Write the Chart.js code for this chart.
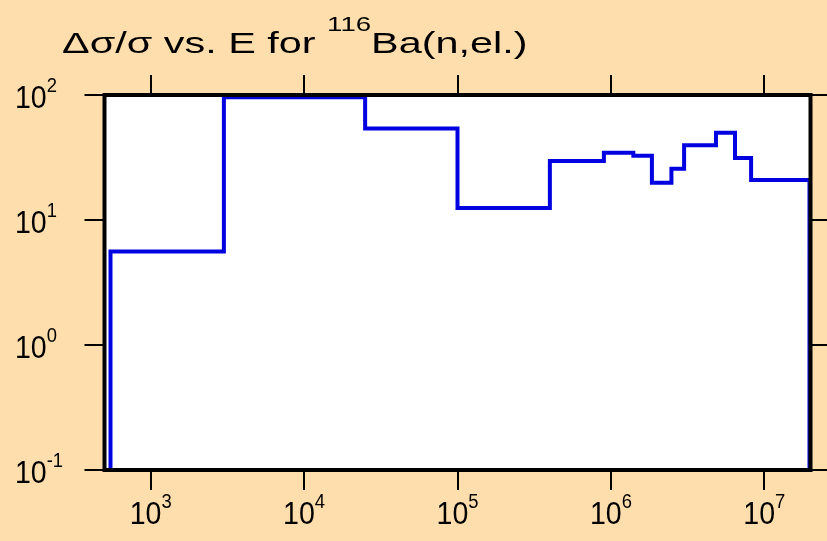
<!DOCTYPE html>
<html>
<head>
<meta charset="utf-8">
<script src="https://cdn.jsdelivr.net/npm/chart.js@4"></script>
<style>
  html, body { margin: 0; padding: 0; background: #ffdead; }
  canvas { display: block; }
</style>
</head>
<body>
<canvas id="js-chart" width="827" height="541"></canvas>
<script>
// bin edges (eV) and relative uncertainty (%) per bin
const binEdges = [547, 3000, 25000, 1e5, 4e5, 9e5, 1.4e6, 1.85e6, 2.48e6, 3e6, 4.84e6, 6.44e6, 8.2e6, 1.97e7];
const relErr = [5.6, 96, 54, 12.5, 29.6, 34.5, 32.6, 19.9, 25.7, 39.6, 50, 31.3, 20.9];
const xTickExp = [3, 4, 5, 6, 7];
const yTickExp = [-1, 0, 1, 2];
const titleParts = ['Δσ/σ vs. E for ', '116', 'Ba(n,el.)'];

// step path, dropping to the floor at both ends
const floorValue = 0.01;
const points = [{ x: binEdges[0], y: floorValue }];
relErr.forEach((v, i) => {
  points.push({ x: binEdges[i], y: v });
  points.push({ x: binEdges[i + 1], y: v });
});
points.push({ x: binEdges[binEdges.length - 1], y: floorValue });

const FONT = '"Liberation Sans", Arial, sans-serif';

// draw runs of text with different sizes / rises, sx = horizontal stretch
function drawRuns(ctx, runs, x, baseline, align, sx) {
  let total = 0;
  runs.forEach(r => {
    ctx.font = r.size + 'px ' + FONT;
    r.w = ctx.measureText(r.text).width * sx;
    total += r.w;
  });
  let cx = x;
  if (align === 'center') cx = x - total / 2;
  runs.forEach(r => {
    ctx.save();
    ctx.font = r.size + 'px ' + FONT;
    ctx.translate(cx, baseline - (r.rise || 0));
    ctx.scale(sx, 1);
    ctx.textAlign = 'left';
    ctx.textBaseline = 'alphabetic';
    ctx.fillText(r.text, 0, 0);
    ctx.restore();
    cx += r.w;
  });
}

function powRuns(e) {
  return [{ text: '10', size: 31 }, { text: String(e), size: 20, rise: 16 }];
}

const frame = {
  id: 'frame',
  beforeDatasetsDraw(chart) {
    const { ctx, chartArea: { left, top, width, height } } = chart;
    ctx.save();
    ctx.fillStyle = '#ffffff';
    ctx.fillRect(left, top, width, height);
    ctx.restore();
  },
  afterDraw(chart) {
    const { ctx, chartArea: { left, top, right, bottom, width, height } } = chart;
    const xs = chart.scales.x, ys = chart.scales.y;
    const tick = 20;
    ctx.save();
    ctx.strokeStyle = '#000';
    ctx.fillStyle = '#000';

    ctx.lineWidth = 2;
    ctx.beginPath();
    xTickExp.forEach(e => {
      const px = Math.round(xs.getPixelForValue(Math.pow(10, e)));
      ctx.moveTo(px, bottom); ctx.lineTo(px, bottom + tick);
      ctx.moveTo(px, top); ctx.lineTo(px, top - tick);
    });
    yTickExp.forEach(e => {
      const py = Math.round(ys.getPixelForValue(Math.pow(10, e)));
      ctx.moveTo(left, py); ctx.lineTo(left - tick, py);
      ctx.moveTo(right, py); ctx.lineTo(right + tick, py);
    });
    ctx.stroke();

    ctx.lineWidth = 4;
    ctx.strokeRect(left, top, width, height);

    xTickExp.forEach(e => {
      const px = xs.getPixelForValue(Math.pow(10, e));
      drawRuns(ctx, powRuns(e), px, bottom + 54, 'center', 0.92);
    });
    yTickExp.forEach(e => {
      const py = ys.getPixelForValue(Math.pow(10, e));
      drawRuns(ctx, powRuns(e), 15, py + 13, 'left', 0.92);
    });

    drawRuns(ctx, [
      { text: titleParts[0], size: 30 },
      { text: titleParts[1], size: 20, rise: 22 },
      { text: titleParts[2], size: 30 }
    ], 62, 53, 'left', 1.38);
    ctx.restore();
  }
};

const ctx = document.getElementById('js-chart').getContext('2d');
const chart = new Chart(ctx, {
  type: 'line',
  data: {
    datasets: [{
      data: points,
      borderColor: '#0000e0',
      borderWidth: 4,
      pointRadius: 0,
      tension: 0,
      fill: false,
      borderJoinStyle: 'miter'
    }]
  },
  options: {
    responsive: false,
    animation: false,
    events: [],
    layout: { padding: { left: 0, top: 95, right: 16.5, bottom: 0 } },
    scales: {
      x: {
        type: 'logarithmic', min: 500, max: 2e7,
        ticks: { display: false }, grid: { display: false }, border: { display: false },
        afterFit(s) { s.height = 71; }
      },
      y: {
        type: 'logarithmic', min: 0.1, max: 100,
        ticks: { display: false }, grid: { display: false }, border: { display: false },
        afterFit(s) { s.width = 104.5; }
      }
    },
    plugins: { legend: { display: false }, tooltip: { enabled: false }, title: { display: false } }
  },
  plugins: [frame]
});
</script>
</body>
</html>
